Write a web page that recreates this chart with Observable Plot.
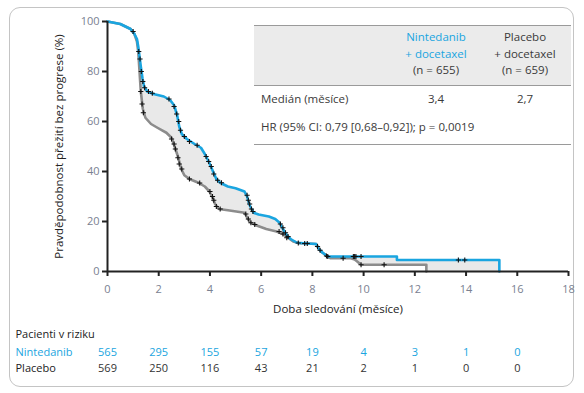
<!DOCTYPE html>
<html>
<head>
<meta charset="utf-8">
<script src="https://cdn.jsdelivr.net/npm/d3@7"></script>
<script src="https://cdn.jsdelivr.net/npm/@observablehq/plot@0.6"></script>
<style>
  html, body { margin: 0; padding: 0; background: #fff; }
  #wrap { position: relative; width: 584px; height: 393px; font-family: "Open Sans", sans-serif; color: #333; }
  #frame { position: absolute; left: 9px; top: 7px; width: 565px; height: 380px; border: 1.5px solid #c4c4c4; border-radius: 11px; box-sizing: border-box; }
  #chart { position: absolute; left: 0; top: 0; }
  #info { position: absolute; left: 254px; top: 25px; width: 317px; font-size: 11.5px; color: #3a3a3a; }
  #info .head { height: 59px; background: #ebebeb; border-top: 1px solid #9a9a9a; border-bottom: 1px solid #9a9a9a; position: relative; }
  #info .col { position: absolute; text-align: center; line-height: 16.5px; top: 3px; width: 90px; }
  #info .row { position: absolute; white-space: nowrap; }
  #info .bottom { position: absolute; top: 119px; left: 0; width: 317px; border-top: 1px solid #9a9a9a; }
</style>
</head>
<body>
<div id="wrap">
  <div id="frame"></div>
  <div id="chart"></div>
  <div id="info"></div>
</div>
<script>
// Kaplan–Meier curve points [months, %]
const nintedanibT = [0,0.5,0.9,1.05,1.15,1.2,1.25,1.3,1.37,1.43,1.55,1.8,2.2,2.45,2.6,2.72,2.8,2.9,3.1,3.4,3.65,3.8,3.95,4.1,4.25,4.4,4.7,5.0,5.35,5.45,5.55,5.7,5.9,6.3,6.55,6.72,6.85,7.0,7.15,7.4,7.8,8.15,8.25,8.4,8.6,9.7,11.3,11.3,15.3,15.3];
const nintedanibV = [100,99,97,95,93,90,86,82,77,74,72,71,70,68.5,66.5,62.5,58,55,53,51,49.5,47,44,40.5,37,35.5,34,33.3,32,30,26.5,23.5,22.8,22,21,19.5,17,14.5,13,11.5,11.2,11,9,7.5,6,6,6,4.6,4.6,0];
const placeboT = [0,0.5,0.9,1.05,1.15,1.2,1.25,1.3,1.38,1.48,1.7,1.95,2.3,2.5,2.62,2.75,2.88,3.0,3.2,3.55,3.8,3.98,4.1,4.2,4.35,4.7,5.35,5.48,5.6,5.85,6.2,6.6,6.85,7.05,7.25,7.5,7.8,8.15,8.25,8.4,8.7,9.5,9.65,9.75,9.9,12.45,12.45];
const placeboV = [100,99,97,95,92,88,80,72,65,61.5,59,57.5,55.5,53.5,50,46,41,38.5,37,35.5,34,32,29.5,27,25,24.5,23.5,21,19.5,18.3,17,16,15,13.5,12,11.3,11.2,11,9,7.5,5.3,5.3,4.8,4,2.7,2.7,0];

// censoring marks [months, %]
const censorNinT = [1.0,1.22,1.27,1.32,1.38,1.45,1.6,1.75,2.4,2.6,2.7,2.78,2.85,3.0,3.2,3.5,3.85,3.95,4.05,4.15,4.3,4.45,5.45,5.5,5.55,5.62,5.68,6.75,6.85,6.95,7.05,7.45,7.7,7.8,8.2,8.55,9.6,9.65,9.7,9.9,13.7,13.95];
const censorNinV = [96,88,85,80,76,73.5,72,71.3,69,66,63,60,56.5,54,52,50.5,46,44,42,39,36.5,35.5,30.5,28.5,27,25,24,19,17.5,15.5,14,11.4,11.2,11.2,10,6.2,6,6,6,6,4.6,4.6];
const censorPlaT = [1.3,1.35,1.4,2.5,2.6,2.65,2.75,2.8,2.9,3.2,3.6,4.0,4.1,4.15,4.25,4.4,5.4,5.5,5.6,5.75,6.7,6.85,7.0,8.3,8.6,9.2,9.9,10.8];
const censorPlaV = [72,67,63.5,53,51,49,45.5,43,41,37,35.4,32,30,28.5,26,25,23,21,19.5,18.8,16,15,13.5,8.5,6,5.3,2.7,2.7];

// axes and risk table
const xTicks = [0,2,4,6,8,10,12,14,16,18];
const yTicks = [0,20,40,60,80,100];
const riskMonths = [0,2,4,6,8,10,12,14,16];
const riskNintedanib = [565,295,155,57,19,4,3,1,0];
const riskPlacebo = [569,250,116,43,21,2,1,0,0];

// summary table
const groupNames = ["Nintedanib", "Placebo"];
const medians = ["3,4", "2,7"];
const ns = ["(n = 655)", "(n = 659)"];
const hrText = "HR (95% CI: 0,79 [0,68–0,92]); p = 0,0019";

const BLUE = "#1aa5e0", GREY = "#8c8c8c", TICKC = "#7a8191";

const nin = nintedanibT.map((t, i) => ({t, v: nintedanibV[i]}));
const pla = placeboT.map((t, i) => ({t, v: placeboV[i]}));
const cN = censorNinT.map((t, i) => ({t, v: censorNinV[i]}));
const cP = censorPlaT.map((t, i) => ({t, v: censorPlaV[i]}));
const riskN = riskMonths.map((t, i) => ({t, n: riskNintedanib[i]}));
const riskP = riskMonths.map((t, i) => ({t, n: riskPlacebo[i]}));

const plot = Plot.plot({
  width: 584, height: 393,
  marginLeft: 107, marginRight: 16, marginTop: 21, marginBottom: 122,
  style: {fontFamily: "'Open Sans', sans-serif", fontSize: "11px", background: "transparent"},
  x: {domain: [0, 18]},
  y: {domain: [0, 100]},
  marks: [
    Plot.areaY(nin, {x: "t", y1: 0, y2: "v", fill: "#e9e9e9"}),
    Plot.areaY(pla, {x: "t", y1: 0, y2: "v", fill: "#ffffff"}),
    Plot.line(pla, {x: "t", y: "v", stroke: GREY, strokeWidth: 2.6}),
    Plot.line(nin, {x: "t", y: "v", stroke: BLUE, strokeWidth: 2.6}),
    Plot.dot(cP, {x: "t", y: "v", symbol: "plus", r: 1.8, stroke: "#111", strokeWidth: 1.1}),
    Plot.dot(cN, {x: "t", y: "v", symbol: "plus", r: 1.8, stroke: "#111", strokeWidth: 1.1}),
    Plot.axisY({ticks: yTicks, tickSize: 5, tickPadding: 3, stroke: "#222", strokeWidth: 2, fill: TICKC, label: null, fontSize: 11}),
    Plot.axisX({ticks: xTicks, tickSize: 5, tickPadding: 9, stroke: "#222", strokeWidth: 2, fill: TICKC, label: null, fontSize: 11}),
    Plot.ruleX([0], {y1: 0, y2: 100, stroke: "#222", strokeWidth: 2}),
    Plot.ruleY([0], {x1: 0, x2: 18, stroke: "#222", strokeWidth: 2}),
    Plot.text(["Doba sledování (měsíce)"], {frameAnchor: "bottom", dy: 41, fill: "#222", fontSize: 11.5}),
    Plot.text(["Pravděpodobnost přežití bez progrese (%)"], {frameAnchor: "left", textAnchor: "middle", dx: -48, rotate: -90, fill: "#222", fontSize: 11.5}),
    Plot.text(["Pacienti v riziku"], {frameAnchor: "bottom-left", dx: -92, dy: 66, textAnchor: "start", fill: "#222", fontSize: 11}),
    Plot.text([groupNames[0]], {frameAnchor: "bottom-left", dx: -92, dy: 84, textAnchor: "start", fill: BLUE, fontSize: 11}),
    Plot.text([groupNames[1]], {frameAnchor: "bottom-left", dx: -92, dy: 100, textAnchor: "start", fill: "#222", fontSize: 11}),
    Plot.text(riskN, {x: "t", text: "n", frameAnchor: "bottom", dy: 84, fill: BLUE, fontSize: 11}),
    Plot.text(riskP, {x: "t", text: "n", frameAnchor: "bottom", dy: 100, fill: "#333", fontSize: 11})
  ]
});
document.getElementById("chart").appendChild(plot);

const info = document.getElementById("info");
info.innerHTML = `
  <div class="head">
    <div class="col" style="left:137px;color:${BLUE}">${groupNames[0]}<br>+ docetaxel<br><span style="color:#3a3a3a">${ns[0]}</span></div>
    <div class="col" style="left:226px">${groupNames[1]}<br>+ docetaxel<br>${ns[1]}</div>
  </div>
  <div class="row" style="top:66px;left:7px">Medián (měsíce)</div>
  <div class="row" style="top:66px;left:137px;width:90px;text-align:center">${medians[0]}</div>
  <div class="row" style="top:66px;left:226px;width:90px;text-align:center">${medians[1]}</div>
  <div class="row" style="top:94px;left:7px">${hrText}</div>
  <div class="bottom"></div>`;
</script>
</body>
</html>
